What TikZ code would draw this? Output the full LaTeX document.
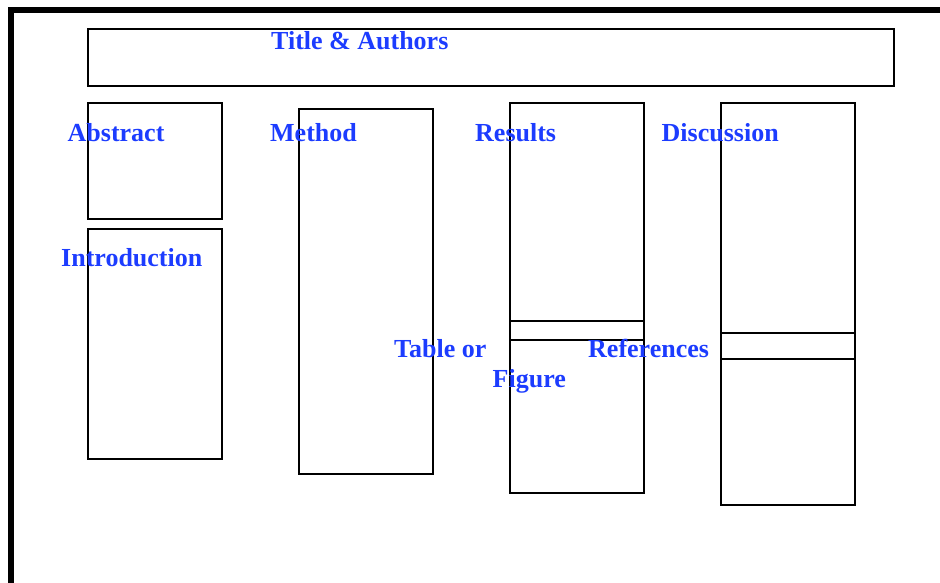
\documentclass[tikz,border=0pt]{standalone}
\usepackage{fontspec}
\setmainfont{Liberation Serif}
\definecolor{labelblue}{RGB}{28,60,255}
\tikzset{
  panel/.style={draw=black, line width=2.8pt, fill=none, inner sep=0pt, outer sep=0pt, anchor=north west},
  heading/.style={text=labelblue, font=\fontsize{26}{30}\selectfont\bfseries, inner sep=0pt, anchor=base west},
}
\begin{document}
\begin{tikzpicture}[x=1pt, y=1pt]
  \useasboundingbox (0,0) rectangle (940,-583);
  % sheet frame, running off the right and bottom edges
  \begin{scope}
    \clip (0,0) rectangle (940,-583);
    \node[draw=black, line width=5.5pt, inner sep=0pt, outer sep=0pt, anchor=north west,
          minimum width=980pt, minimum height=620pt] (sheet) at (10.8,-10) {};
  \end{scope}

  % layout panels
  \node[panel, minimum width=806pt, minimum height=57pt] (title) at (88,-29) {};
  \node[panel, minimum width=134pt, minimum height=116pt] (abstract) at (88,-103) {};
  \node[panel, minimum width=134pt, minimum height=230pt] (intro) at (88,-229) {};
  \node[panel, minimum width=134pt, minimum height=365pt] (method) at (299,-109) {};
  \node[panel, minimum width=134pt, minimum height=390pt] (results) at (510,-103) {};
  \node[panel, minimum width=134pt, minimum height=19pt] (figband) at (510,-321) {};
  \node[panel, minimum width=134pt, minimum height=402pt] (discussion) at (721,-103) {};
  \node[panel, minimum width=134pt, minimum height=26pt] (refband) at (721,-333) {};

  % section headings
  \node[heading] (ttitle) at (271,-50) {Title \& Authors};
  \node[heading] (tabstract) at (67.5,-142) {Abstract};
  \node[heading] (tmethod) at (270,-142) {Method};
  \node[heading] (tresults) at (475,-142) {Results};
  \node[heading] (tdiscussion) at (661.5,-142) {Discussion};
  \node[heading] (tintro) at (61,-266) {Introduction};
  \node[heading] (ttable) at (394,-357) {Table or};
  \node[heading] (tfigure) at (492.5,-387) {Figure};
  \node[heading] (trefs) at (588,-357) {References};
\end{tikzpicture}
\end{document}
